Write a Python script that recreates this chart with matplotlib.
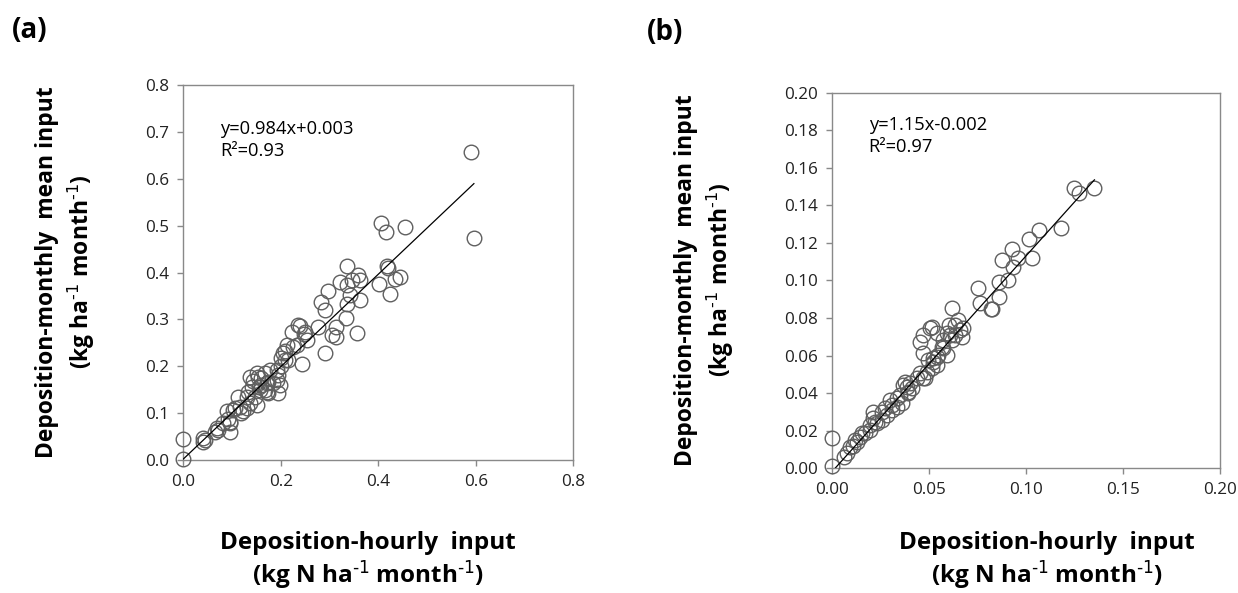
import matplotlib
matplotlib.use("Agg")
import matplotlib.pyplot as plt
import numpy as np
from matplotlib.ticker import FormatStrFormatter

plt.rcParams["font.family"] = ["Open Sans", "DejaVu Sans"]
plt.rcParams["mathtext.default"] = "regular"

# panel (a): hourly vs monthly-mean deposition input
hourly_a = [0.000, 0.000, 0.041, 0.041, 0.045, 0.065, 0.068, 0.071, 0.082, 0.089,
            0.092, 0.095, 0.095, 0.095, 0.102, 0.106, 0.112, 0.116, 0.119, 0.123,
            0.130, 0.130, 0.133, 0.136, 0.136, 0.140, 0.143, 0.147, 0.150, 0.150,
            0.153, 0.154, 0.157, 0.160, 0.160, 0.167, 0.167, 0.171, 0.171, 0.174,
            0.174, 0.178, 0.184, 0.191, 0.191, 0.195, 0.198, 0.195, 0.201, 0.201,
            0.208, 0.205, 0.208, 0.212, 0.225, 0.222, 0.236, 0.239, 0.244, 0.248,
            0.253, 0.249, 0.232, 0.215, 0.277, 0.282, 0.290, 0.290, 0.297, 0.304,
            0.312, 0.313, 0.321, 0.333, 0.335, 0.335, 0.335, 0.342, 0.345, 0.357,
            0.359, 0.362, 0.362, 0.401, 0.405, 0.416, 0.418, 0.420, 0.424, 0.434,
            0.444, 0.455, 0.591, 0.596]
monthly_a = [0.003, 0.045, 0.047, 0.040, 0.043, 0.061, 0.068, 0.065, 0.079, 0.104,
             0.089, 0.082, 0.061, 0.079, 0.107, 0.111, 0.135, 0.114, 0.100, 0.104,
             0.111, 0.135, 0.146, 0.121, 0.178, 0.157, 0.168, 0.135, 0.118, 0.185,
             0.178, 0.157, 0.150, 0.175, 0.161, 0.185, 0.150, 0.164, 0.146, 0.167,
             0.143, 0.192, 0.164, 0.192, 0.171, 0.143, 0.160, 0.182, 0.200, 0.217,
             0.214, 0.228, 0.232, 0.246, 0.242, 0.274, 0.288, 0.286, 0.205, 0.270,
             0.256, 0.274, 0.246, 0.214, 0.285, 0.338, 0.320, 0.228, 0.361, 0.267,
             0.285, 0.263, 0.379, 0.303, 0.333, 0.374, 0.413, 0.352, 0.384, 0.271,
             0.395, 0.384, 0.342, 0.375, 0.505, 0.487, 0.413, 0.409, 0.354, 0.387,
             0.390, 0.496, 0.656, 0.474]

# panel (b)
hourly_b = [0.000, 0.000, 0.0065, 0.0077, 0.0094, 0.0111, 0.0120, 0.0129, 0.0146, 0.0155,
            0.0172, 0.0197, 0.0197, 0.0214, 0.0215, 0.0223, 0.0232, 0.0258, 0.0258, 0.0275,
            0.0283, 0.0300, 0.0309, 0.0309, 0.0335, 0.0335, 0.0352, 0.0361, 0.0369, 0.0378,
            0.0386, 0.0395, 0.0395, 0.0403, 0.0412, 0.0438, 0.0455, 0.0455, 0.0472, 0.0472,
            0.0472, 0.0481, 0.0489, 0.0498, 0.0506, 0.0515, 0.0515, 0.0523, 0.0524, 0.0541,
            0.0541, 0.0541, 0.0549, 0.0567, 0.0575, 0.0575, 0.0592, 0.0592, 0.0606, 0.0609,
            0.0618, 0.0618, 0.0635, 0.0635, 0.0652, 0.0661, 0.0670, 0.0678, 0.0752, 0.0764,
            0.0819, 0.0826, 0.0862, 0.0862, 0.0876, 0.0910, 0.0927, 0.0936, 0.0961, 0.1018,
            0.1034, 0.1068, 0.1181, 0.1248, 0.1276, 0.1353]
monthly_b = [0.001, 0.016, 0.0060, 0.0080, 0.0115, 0.0120, 0.0151, 0.0140, 0.0169, 0.0186,
             0.0190, 0.0204, 0.0231, 0.0301, 0.0266, 0.0248, 0.0240, 0.0257, 0.0302, 0.0319,
             0.0284, 0.0364, 0.0310, 0.0337, 0.0328, 0.0373, 0.0390, 0.0346, 0.0444, 0.0461,
             0.0435, 0.0399, 0.0408, 0.0453, 0.0426, 0.0479, 0.0506, 0.0674, 0.0479, 0.0612,
             0.0710, 0.0479, 0.0514, 0.0577, 0.0745, 0.0532, 0.0754, 0.0586, 0.0568, 0.0550,
             0.0595, 0.0719, 0.0603, 0.0647, 0.0639, 0.0683, 0.0603, 0.0719, 0.0763, 0.0710,
             0.0852, 0.0683, 0.0763, 0.0710, 0.0790, 0.0736, 0.0701, 0.0745, 0.0958, 0.0879,
             0.0847, 0.0850, 0.0994, 0.0910, 0.1110, 0.1000, 0.1170, 0.1070, 0.1120, 0.1220,
             0.1120, 0.1270, 0.1280, 0.1490, 0.1464, 0.1490]

fit_a = (0.984, 0.003)
fit_b = (1.15, -0.002)

GRAY = "#898989"
MARKER_EDGE = "#5f5f5f"


def style_axes(ax):
    for sp in ax.spines.values():
        sp.set_color(GRAY)
        sp.set_linewidth(1.0)
    ax.tick_params(direction="out", length=4, width=1.0, color=GRAY,
                   labelsize=12.3, labelcolor="#222222", pad=6)


def draw_panel(ax, x, y, fit, xticks, yticks, fmt, eq_text, eq_pos):
    ax.plot(x, y, "o", ms=10.5, mfc="none", mec=MARKER_EDGE, mew=1.0, zorder=3,
            clip_on=False)
    xs = np.array([min(x), max(x)])
    ax.plot(xs, fit[0] * xs + fit[1], color="black", lw=0.9, zorder=4)
    ax.set_xlim(xticks[0], xticks[-1])
    ax.set_ylim(yticks[0], yticks[-1])
    ax.set_xticks(xticks)
    ax.set_yticks(yticks)
    ax.xaxis.set_major_formatter(FormatStrFormatter(fmt))
    ax.yaxis.set_major_formatter(FormatStrFormatter(fmt))
    ax.text(eq_pos[0], eq_pos[1], eq_text, fontsize=13.2, va="top", ha="left",
            linespacing=1.3)
    style_axes(ax)


fig = plt.figure(figsize=(12.38, 5.93), dpi=100)

ax_a = fig.add_axes([0.1482, 0.2238, 0.3149, 0.6332])
draw_panel(ax_a, hourly_a, monthly_a, fit_a,
           np.arange(0, 0.81, 0.2), np.arange(0, 0.81, 0.1), "%.1f",
           "y=0.984x+0.003\nR²=0.93", (0.075, 0.725))

ax_b = fig.add_axes([0.6718, 0.2103, 0.3137, 0.6334])
draw_panel(ax_b, hourly_b, monthly_b, fit_b,
           np.arange(0, 0.201, 0.05), np.arange(0, 0.201, 0.02), "%.2f",
           "y=1.15x-0.002\nR²=0.97", (0.019, 0.1875))

xlab = "Deposition-hourly  input\n(kg N ha$^{\\text{-1}}$ month$^{\\text{-1}}$)"
ylab = "Deposition-monthly  mean input\n(kg ha$^{\\text{-1}}$ month$^{\\text{-1}}$)"
xlab_kw = dict(fontsize=17.5, fontweight="bold", ha="center", va="center",
               linespacing=1.15)
ylab_kw = dict(fontsize=16.5, fontweight="bold", ha="center", va="center",
               linespacing=1.3, rotation=90)

fig.text(368 / 1238, 1 - 561 / 593, xlab, **xlab_kw)
fig.text(1047 / 1238, 1 - 561 / 593, xlab, **xlab_kw)
fig.text(66 / 1238, 1 - 272 / 593, ylab, **ylab_kw)
fig.text(705 / 1238, 1 - 280 / 593, ylab, **ylab_kw)

fig.text(30 / 1238, 1 - 30 / 593, "(a)", fontsize=20, fontweight="bold",
         ha="center", va="center")
fig.text(665 / 1238, 1 - 32 / 593, "(b)", fontsize=20, fontweight="bold",
         ha="center", va="center")

fig.savefig("out.png", dpi=100)
